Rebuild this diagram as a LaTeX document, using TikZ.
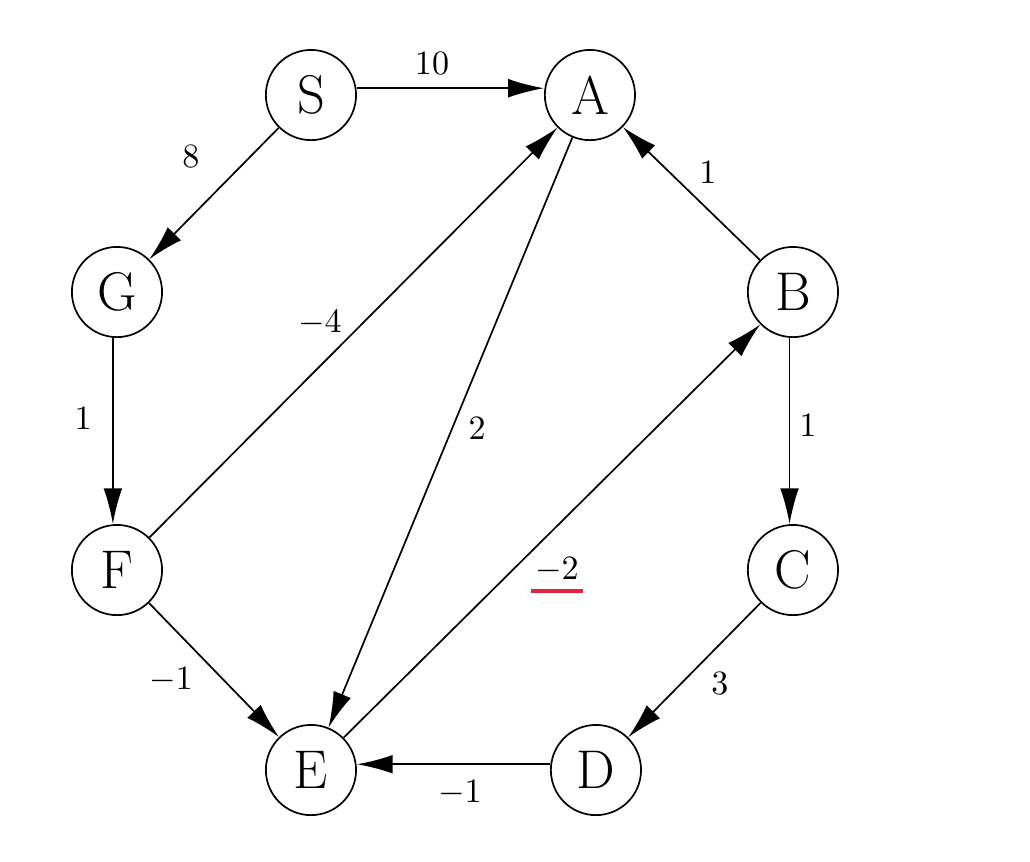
\documentclass[tikz,border=0pt]{standalone}
\usepackage{amsmath,amssymb}
\usepackage{tikz}
\usepackage{xcolor}
\usetikzlibrary{arrows.meta}

\definecolor{markred}{RGB}{228,36,60}

\begin{document}
\begin{tikzpicture}[
    vertex/.style={draw, circle, line width=0.5pt, minimum size=0.93cm, inner sep=0pt, font=\fontsize{16}{19}\selectfont},
    edge/.style={line width=0.5pt, -{Latex[length=10.5pt,width=5.5pt]}},
    weight/.style={inner sep=1pt}
  ]
  \useasboundingbox (0,0) rectangle (10.619,8.887);
  % vertices
  \node[vertex] (S) at (3.206,7.907) {S};
  \node[vertex] (A) at (6.082,7.907) {A};
  \node[vertex] (G) at (1.206,5.876) {G};
  \node[vertex] (B) at (8.175,5.876) {B};
  \node[vertex] (F) at (1.206,3.010) {F};
  \node[vertex] (C) at (8.175,3.010) {C};
  \node[vertex] (E) at (3.206,0.948) {E};
  \node[vertex] (D) at (6.144,0.948) {D};
  % edges
  \draw[edge] ([yshift=2pt]S.east) -- ([yshift=2pt]A.west);
  \draw[edge] (S) -- (G);
  \draw[edge] (B) -- (A);
  \draw[edge] (F) -- (A);
  \draw[edge] (A) -- (E);
  \draw[edge] ([xshift=-1.2pt]G.south) -- ([xshift=-1.2pt]F.north);
  \draw[edge] ([xshift=-1pt]B.south) -- ([xshift=-1pt]C.north);
  \draw[edge] (C) -- (D);
  \draw[edge] ([yshift=1.7pt]D.west) -- ([yshift=1.7pt]E.east);
  \draw[edge] (F) -- (E);
  \draw[edge] (E) -- (B);
  % weights
  \node[weight] (wSA) at (4.454,8.237) {$10$};
  \node[weight] (wSG) at (1.969,7.268) {$8$};
  \node[weight] (wBA) at (7.299,7.113) {$1$};
  \node[weight] (wFA) at (3.299,5.557) {$-4$};
  \node[weight] (wGF) at (0.856,4.577) {$1$};
  \node[weight] (wAE) at (4.918,4.474) {$2$};
  \node[weight] (wBC) at (8.330,4.505) {$1$};
  \node[weight] (wEB) at (5.742,3.010) {$-2$};
  \node[weight] (wFE) at (1.763,1.876) {$-1$};
  \node[weight] (wCD) at (7.423,1.845) {$3$};
  \node[weight] (wDE) at (4.742,0.711) {$-1$};
  \draw[markred, line width=1.2pt] ([yshift=-1.2pt]wEB.south west) -- ([yshift=-1.2pt]wEB.south east);
\end{tikzpicture}
\end{document}
